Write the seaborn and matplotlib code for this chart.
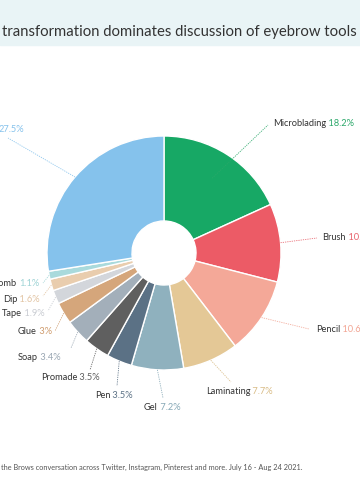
import numpy as np
import matplotlib
matplotlib.use("Agg")
import matplotlib.pyplot as plt
import seaborn as sns
from matplotlib.patches import Rectangle

# ---- data ----
names = ["Microblading", "Brush", "Pencil", "Laminating", "Gel", "Pen", "Promade",
         "Soap", "Glue", "Tape", "Dip", "Comb", ""]
values = [18.2, 10.8, 10.6, 7.7, 7.2, 3.5, 3.5, 3.4, 3.0, 1.9, 1.6, 1.1, 27.5]
value_labels = ["18.2%", "10.8%", "10.6%", "7.7%", "7.2%", "3.5%", "3.5%",
                "3.4%", "3%", "1.9%", "1.6%", "1.1%", "27.5%"]
colors = ["#17A865", "#EC5B66", "#F4A898", "#E4C896", "#8FB1BE", "#5B7185", "#5F5F5F",
          "#A3AFBA", "#D5A67B", "#D3D6DB", "#E9CDAE", "#A9DADC", "#85C2EC"]
value_colors = ["#2BA86A", "#E8636C", "#F2A594", "#D9BC86", "#86A8B6", "#5B7185", "#5F5F5F",
                "#9AA7B3", "#CF9C6E", "#C9CCD2", "#E2C4A3", "#9ED3D5", "#85C2EC"]
title = "transformation dominates discussion of eyebrow tools"
footnote = "the Brows conversation across Twitter, Instagram, Pinterest and more. July 16 - Aug 24 2021."

# ---- layout (pixels, y down) ----
W, H = 360, 500
cx, cy, R, r_in = 164, 253, 117, 32
# label anchor (x, y), alignment, leader end near label, leader start radius factor
label_layout = [
    ((273, 124), "left", (268, 125), 0.76),
    ((322, 237), "left", (317, 238), 1.0),
    ((316, 329), "left", (309, 329), 1.0),
    ((206, 391), "left", (231, 382), 1.0),
    ((144, 408), "left", (163, 398), 1.0),
    ((95, 396), "left", (117, 386), 1.0),
    ((41, 378), "left", (90, 370), 1.0),
    ((18, 357), "left", (71, 348), 1.0),
    ((18, 332), "left", (55, 331), 1.0),
    ((2, 314), "left", (48, 311), 1.0),
    ((3, 299), "left", (43, 296), 1.0),
    ((39, 283), "right", (43, 283), 1.0),
    ((24, 129), "right", (8, 138), 1.0),
]

sns.set_theme(style="white")
plt.rcParams["font.family"] = ["Lato", "DejaVu Sans"]

fig = plt.figure(figsize=(W / 100, H / 100), dpi=100)
ax = fig.add_axes([0, 0, 1, 1])

def P(x, y):
    return x, H - y

ax.add_patch(Rectangle((0, H - 45), W, 45, color="#E9F4F6", zorder=0))
ax.text(*P(2, 32), title, fontsize=10.7, color="#333333", ha="left", va="center")
ax.text(*P(1, 467), footnote, fontsize=5.3, color="#555555", ha="left", va="center")

wedges, _ = ax.pie(values, colors=colors, startangle=90, counterclock=False,
                   center=P(cx, cy), radius=R,
                   wedgeprops=dict(width=R - r_in, edgecolor="white", linewidth=1.0))

total = sum(values)
cum = 0.0
for i, v in enumerate(values):
    mid = (cum + v / 2) / total * 360.0
    cum += v
    (tx, ty), ha, (lx, ly), fac = label_layout[i]
    th = np.deg2rad(mid)
    sx = cx + R * fac * np.sin(th)
    sy = cy - R * fac * np.cos(th)
    ax.plot([P(sx, sy)[0], P(lx, ly)[0]], [P(sx, sy)[1], P(lx, ly)[1]],
            color=value_colors[i], lw=0.6, ls=(0, (1.5, 1.2)), zorder=3, alpha=0.9)
    if ha == "left":
        t1 = ax.text(*P(tx, ty), names[i], fontsize=6.7, color="#333333",
                     ha="left", va="center")
        ax.annotate(" " + value_labels[i], xy=(1, 0), xycoords=t1, ha="left", va="bottom",
                    fontsize=6.7, color=value_colors[i])
    else:
        t1 = ax.text(*P(tx, ty), value_labels[i], fontsize=6.7, color=value_colors[i],
                     ha="right", va="center")
        if names[i]:
            ax.annotate(names[i] + " ", xy=(0, 0), xycoords=t1, ha="right", va="bottom",
                        fontsize=6.7, color="#333333")

ax.set_xlim(0, W)
ax.set_ylim(0, H)
ax.set_aspect("equal")
ax.axis("off")
fig.savefig("out.png", dpi=100)
